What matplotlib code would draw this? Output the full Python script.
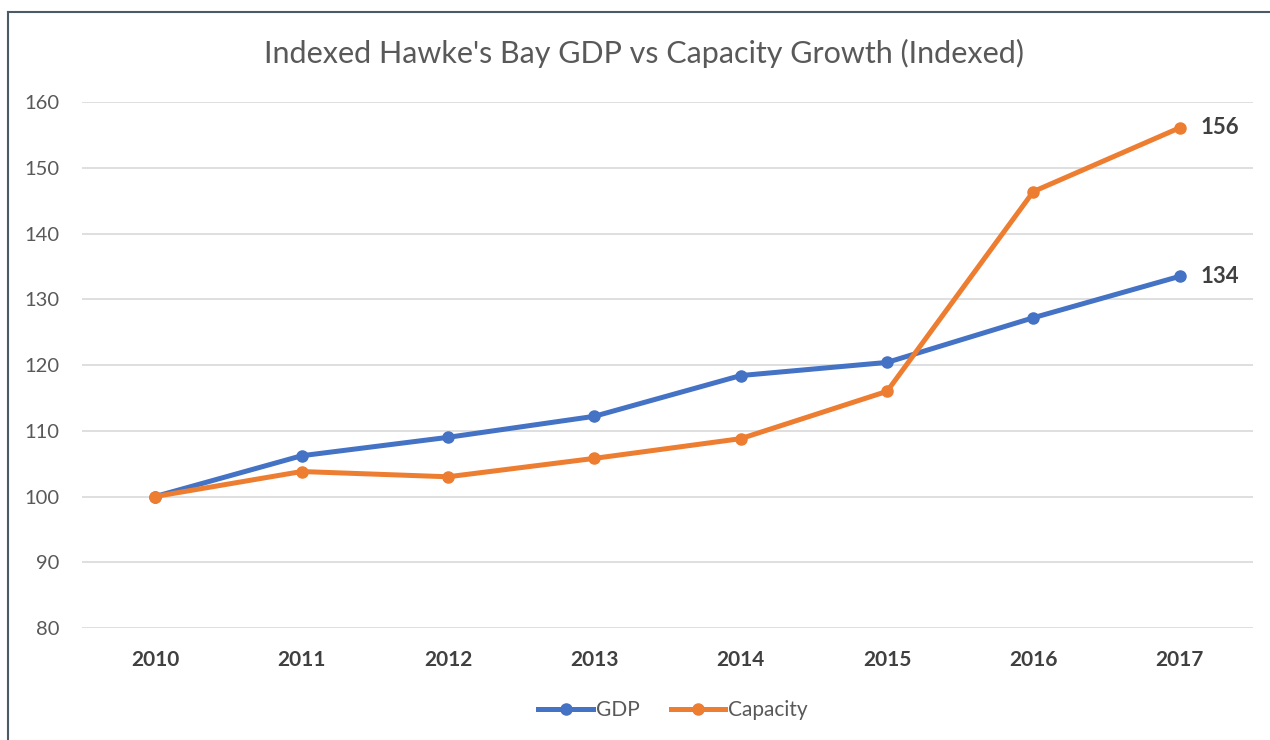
import matplotlib.pyplot as plt
from matplotlib.lines import Line2D

# datos
years = ["2010", "2011", "2012", "2013", "2014", "2015", "2016", "2017"]
gdp = [100, 106.2, 109.0, 112.2, 118.4, 120.4, 127.2, 133.5]
capacity = [100, 103.8, 103.0, 105.8, 108.8, 116.0, 146.4, 156.1]
y_ticks = [80, 90, 100, 110, 120, 130, 140, 150, 160]

plt.rcParams['font.family'] = ['Lato', 'DejaVu Sans']

fig = plt.figure(figsize=(12.7, 7.4), dpi=100)
ax = fig.add_axes([0.0646, 0.1514, 0.922, 0.7106])

x = list(range(len(years)))
ax.plot(x, gdp, color="#4472C4", lw=3.6, marker="o", ms=8, label="GDP", zorder=3)
ax.plot(x, capacity, color="#ED7D31", lw=3.6, marker="o", ms=8, label="Capacity", zorder=3)

# etiquetas del ultimo punto
ax.annotate(f"{round(capacity[-1])}", (x[-1], capacity[-1]), xytext=(15, 0),
            textcoords="offset points", va="center", ha="left",
            fontsize=16, fontweight="bold", color="#404040")
ax.annotate(f"{round(gdp[-1])}", (x[-1], gdp[-1]), xytext=(15, 0),
            textcoords="offset points", va="center", ha="left",
            fontsize=16, fontweight="bold", color="#404040")

ax.set_xlim(-0.5, len(years) - 0.5)
ax.set_ylim(80, 160)
ax.set_xticks(x)
ax.set_xticklabels(years, fontsize=15, fontweight="bold", color="#404040")
ax.set_yticks(y_ticks)
ax.set_yticklabels([str(v) for v in y_ticks], fontsize=14.5, color="#595959")
ax.tick_params(axis="both", length=0)
ax.tick_params(axis="x", pad=16)
ax.tick_params(axis="y", pad=16)
ax.grid(axis="y", color="#D9D9D9", lw=1.2)
ax.set_axisbelow(True)
for s in ax.spines.values():
    s.set_visible(False)

fig.text(0.507, 0.928, "Indexed Hawke's Bay GDP vs Capacity Growth (Indexed)",
         ha="center", va="center", fontsize=22, color="#595959")

handles = [Line2D([], [], color="#4472C4", lw=3.6, marker="o", ms=8),
           Line2D([], [], color="#ED7D31", lw=3.6, marker="o", ms=8)]
fig.legend(handles, ["GDP", "Capacity"], loc="center", bbox_to_anchor=(0.53, 0.04),
           ncol=2, frameon=False, fontsize=15, labelcolor="#595959",
           handlelength=2.6, handletextpad=0.15, columnspacing=1.5)

# borde a la izquierda y arriba
fig.add_artist(Line2D([0.0066, 0.0066], [0, 0.984], color="#4A5A66", lw=1.5))
fig.add_artist(Line2D([0.0066, 1], [0.984, 0.984], color="#4A5A66", lw=1.5))

plt.savefig("out.png", dpi=100)
